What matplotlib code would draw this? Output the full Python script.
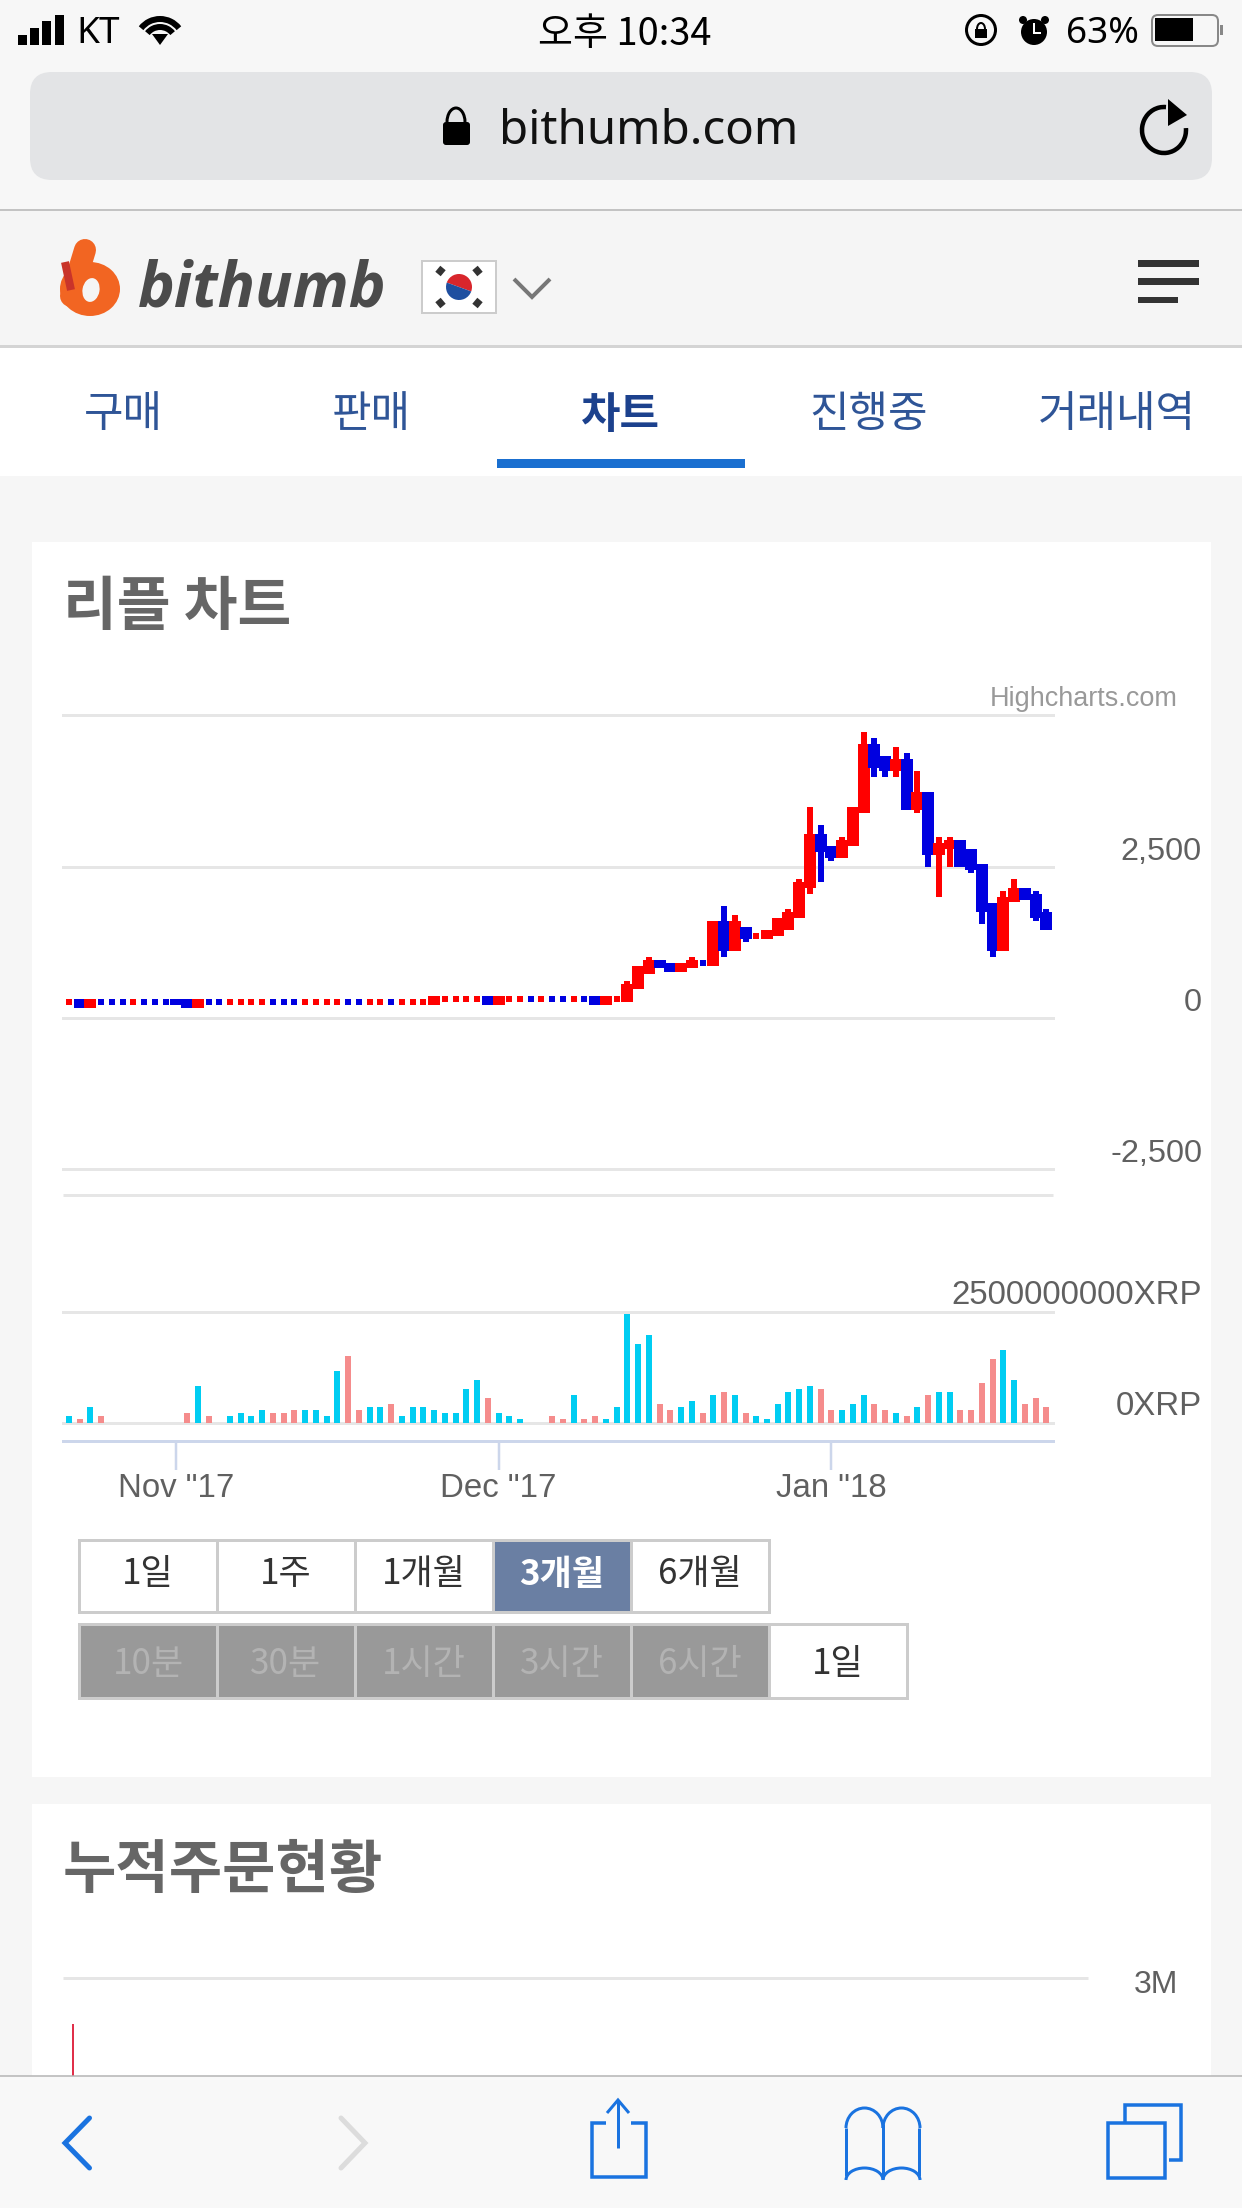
import matplotlib
matplotlib.use("Agg")
import matplotlib.pyplot as plt
from matplotlib.patches import Rectangle, FancyBboxPatch, Circle, Wedge, Arc, Polygon, Ellipse

# ---------- data ----------
# daily candles, index 0 = 22 Oct 2017 ... 91 = 21 Jan 2018 (KRW). r = up (red), b = down (blue)
candle_dirs = list("rbrbbbrbbbbbrbbrrrrbbbrrrrbbrrbrrrrrrrrbrrrbrbbrbb"
                   "rrrrrbbrrbrbrbrrrrrrbbrrrbbrbrbrrbbbbrrbbb")
opens = [267,314,171,267,267,267,267,267,267,267,314,314,171,267,267,267,267,267,267,267,
         267,267,267,267,267,267,267,267,267,267,267,267,267,267,220,316,316,316,316,363,
         220,316,316,316,316,316,316,316,316,363,
         220,314,270,474,721,953,903,765,820,906,864,1602,1112,1503,1357,1310,1360,1454,1657,2147,
         3039,2841,2648,2841,3392,4520,4322,4080,4273,3430,3728,2692,2792,2940,2792,2544,1900,1112,1911,2147,
         2048,1751]
closes = [267,171,314,267,267,267,267,267,267,267,220,171,314,267,267,267,267,267,267,267,
          267,267,267,267,267,267,267,267,267,267,267,267,267,267,363,316,316,316,316,220,
          363,316,316,316,316,316,316,316,316,220,
          358,314,556,853,953,820,765,903,953,906,1602,1112,1602,1310,1357,1454,1652,1751,2246,3039,
          2742,2648,2940,3485,4520,4130,4080,4273,3441,3728,2692,2891,2940,2494,2445,1751,1107,1999,2147,1949,
          1652,1454]
highs = [314,314,314,314,314,314,314,314,314,314,314,314,314,314,314,314,314,314,314,314,
         314,314,314,314,314,314,314,314,314,314,314,314,314,314,363,363,363,363,363,363,
         363,363,363,363,363,363,363,363,363,363,
         358,358,606,853,1008,953,903,903,1008,953,1602,1850,1701,1503,1404,1454,1652,1800,2296,3485,
         3188,2841,2990,3485,4719,4620,4322,4471,4372,4080,3728,2990,2990,2940,2792,2544,1900,2098,2296,2147,
         2098,1800]
lows = [220,171,171,220,220,220,220,220,220,220,220,171,171,220,220,220,220,220,220,220,
        220,220,220,220,220,220,220,220,220,220,220,220,220,220,220,270,270,270,270,220,
        220,270,270,270,270,270,270,270,270,220,
        220,270,270,474,721,820,765,765,820,859,864,1013,1112,1261,1310,1310,1360,1454,1657,2054,
        2246,2599,2648,2841,3392,3981,3981,3981,3441,3386,2494,1999,2494,2494,2395,1553,1008,1112,1911,1949,
        1602,1454]
# volume in millions of XRP; c = cyan, p = pink
volumes = [150,83,353,150,0,0,0,0,0,0,0,218,826,150,0,150,218,150,285,218,
           218,285,285,285,150,1164,1502,285,353,353,420,150,353,353,285,218,218,758,961,556,
           218,150,83,0,0,150,83,623,83,150,
           83,353,2447,1772,1975,420,285,353,488,218,623,691,623,218,150,83,420,691,758,826,
           758,285,285,420,623,420,285,218,150,353,623,691,691,285,285,893,1434,1637,961,420,
           556,353]
volume_dirs = list("cpcpcccccccpcpc" "ccccppp" "ccccppccp" "ccccccccp" "cccccppcpp"
                   "cccccppccpcpcp" "ccccccpp" "cccppcpcp" "ccppppccppp")
tick_idx = [10, 40, 71]
tick_names = ['Nov "17', 'Dec "17', 'Jan "18']
price_ticks = [5000, 2500, 0, -2500]
price_labels = ["", "2,500", "0", "-2,500"]
volume_ticks = [0, 2500000000]
volume_labels = ["0XRP", "2500000000XRP"]
tabs = ["구매", "판매", "차트", "진행중", "거래내역"]
range_buttons = ["1일", "1주", "1개월", "3개월", "6개월"]
period_buttons = ["10분", "30분", "1시간", "3시간", "6시간", "1일"]

# ---------- helpers ----------
W, H = 1242, 2208
KR = ["Noto Sans CJK KR", "DejaVu Sans"]
LAT = ["Liberation Sans", "DejaVu Sans"]
NS = ["Noto Sans", "DejaVu Sans"]
px = 0.72
fig = plt.figure(figsize=(W / 100, H / 100), dpi=100, facecolor="#f6f6f6")
bg = fig.add_axes([0, 0, 1, 1], zorder=0)
bg.set_xlim(0, W); bg.set_ylim(H, 0); bg.axis("off")

def rect(x0, y0, x1, y1, fc, ec="none", lw=0, z=1):
    bg.add_patch(Rectangle((x0, y0), x1 - x0, y1 - y0, fc=fc, ec=ec, lw=lw * px, zorder=z))

def line(xs, ys, c, lw, z=3, cap="butt", join="miter"):
    bg.plot(xs, ys, color=c, lw=lw * px, zorder=z, solid_capstyle=cap, solid_joinstyle=join)

def text(x, y, s, size, c="#111111", ha="center", weight="normal", fam=KR, style="normal"):
    bg.text(x, y, s, fontsize=size * px, color=c, ha=ha, va="center", weight=weight, family=fam,
            style=style, zorder=5)

def axes_px(x0, y_top, x1, y_bot, z=2):
    ax = fig.add_axes([x0 / W, 1 - y_bot / H, (x1 - x0) / W, (y_bot - y_top) / H], zorder=z)
    ax.patch.set_alpha(0)
    return ax

# ---------- chrome ----------
rect(0, 0, W, 210, "#f7f7f7")
bg.add_patch(FancyBboxPatch((30 + 22, 72 + 22), 1182 - 44, 108 - 44, boxstyle="round,pad=22",
                            fc="#e3e4e6", ec="none", zorder=2))
line([0, W], [210, 210], "#b3b3b3", 1.5)
rect(0, 211, W, 346, "#f5f5f5")
rect(0, 345, W, 348, "#d4d4d4", z=2)
rect(0, 348, W, 476, "#ffffff")
rect(32, 542, 1211, 1777, "#ffffff")
rect(32, 1804, 1211, 2080, "#ffffff")
rect(0, 2076, W, H, "#f8f8f8", z=2)
line([0, W], [2076, 2076], "#b3b3b3", 1.5, z=4)

# status bar
for bx, t in zip([18, 30, 42, 55], [35, 28, 21, 15]):
    rect(bx, t, bx + 9, 45, "#000000", z=3)
text(76, 34, "KT", 37, "#000", ha="left", fam=NS)
for r in [16, 24]:
    bg.add_patch(Arc((160, 43), r * 2, r * 2, theta1=218, theta2=322, color="#000", lw=6 * px, zorder=3))
bg.add_patch(Polygon([[152, 34], [168, 34], [160, 45]], fc="#000", ec="none", zorder=3))
text(625, 34, "오후 10:34", 38, "#000", weight="medium")
bg.add_patch(Circle((981, 30), 14.5, fc="none", ec="#000", lw=3 * px, zorder=3))
rect(975, 29, 987, 38, "#000", z=3)
bg.add_patch(Arc((981, 29), 8, 12, theta1=180, theta2=360, color="#000", lw=2 * px, zorder=3))
bg.add_patch(Circle((1034, 32), 13, fc="#000", ec="none", zorder=3))
bg.add_patch(Circle((1023, 20), 4, fc="#000", ec="none", zorder=3))
bg.add_patch(Circle((1045, 20), 4, fc="#000", ec="none", zorder=3))
line([1034, 1034, 1041], [23, 33, 33], "#fff", 2, z=4)
text(1102, 34, "63%", 37, "#000", fam=NS)
bg.add_patch(FancyBboxPatch((1155, 18), 60, 25, boxstyle="round,pad=3,rounding_size=6", fc="none",
                            ec="#888888", lw=2 * px, zorder=3))
rect(1155, 18, 1193, 41, "#000", z=4)
rect(1220, 25, 1223, 35, "#888888", z=3)

# url bar
text(649, 131, "bithumb.com", 47.5, "#111", fam=NS)
bg.add_patch(FancyBboxPatch((445, 124), 23, 19, boxstyle="round,pad=2,rounding_size=3", fc="#000", ec="none", zorder=3))
bg.add_patch(Arc((456, 122), 18, 28, theta1=180, theta2=360, color="#000", lw=3 * px, zorder=3))
bg.add_patch(Arc((1164, 130), 44, 46, theta1=-5, theta2=275, color="#000", lw=4.5 * px, zorder=3))
bg.add_patch(Polygon([[1168, 99], [1187, 115], [1168, 126]], fc="#000", ec="none", zorder=3))

# logo
bg.add_patch(Ellipse((90, 289), 60, 54, fc="#f26522", ec="none", zorder=3))
line([85, 71], [250, 296], "#f26522", 22, cap="round", z=3)
bg.add_patch(Ellipse((91, 290), 17, 24, angle=10, fc="#f5f5f5", ec="none", zorder=4))
line([65, 71], [262, 290], "#c9342a", 8, z=4)
text(138, 290, "bithumb", 62, "#4b4b4b", ha="left", weight="bold", style="italic", fam=["Open Sans", "DejaVu Sans"])
rect(422, 261, 496, 313, "#ffffff", ec="#cccccc", lw=2, z=3)
bg.add_patch(Wedge((459, 287), 13, 200, 380, fc="#d8262c", ec="none", zorder=4))
bg.add_patch(Wedge((459, 287), 13, 20, 200, fc="#1f4fa0", ec="none", zorder=4))
for a, b in [((438, 274), (443, 268)), ((475, 268), (480, 274)), ((475, 306), (480, 300)), ((438, 300), (443, 306))]:
    line([a[0], b[0]], [a[1], b[1]], "#333333", 7, z=4)
line([514, 532, 550], [279, 297, 279], "#777777", 4)
for y0, y1, x1 in [(260, 267, 1199), (278, 285, 1199), (297, 303, 1178)]:
    rect(1138, y0, x1, y1, "#333333", z=3)

# tabs
for x, s in zip([123, 371, 620, 869, 1117], tabs):
    active = s == "차트"
    text(x, 415, s, 43, "#1c418d" if active else "#2f5597", weight="bold" if active else "normal")
rect(497, 459, 745, 468, "#1a6fd0", z=3)

# titles
text(63, 608, "리플 차트", 58.5, "#666666", ha="left", weight="bold")
text(63, 1871, "누적주문현황", 58, "#666666", ha="left", weight="bold")
text(1178, 699, "Highcharts.com", 27, "#999999", ha="right", fam=LAT)

# buttons
bw = 138
for i, s in enumerate(range_buttons):
    active = s == "3개월"
    rect(79 + i * bw, 1540, 79 + (i + 1) * bw, 1612, "#6a7fa3" if active else "#ffffff", ec="#cccccc", lw=3, z=3)
    text(79 + i * bw + bw / 2, 1574, s, 35, "#ffffff" if active else "#333333", weight="bold" if active else "normal")
for i, s in enumerate(period_buttons):
    off = i < 5
    rect(79 + i * bw, 1624, 79 + (i + 1) * bw, 1698, "#999999" if off else "#ffffff", ec="#cccccc", lw=3, z=3)
    text(79 + i * bw + bw / 2, 1664, s, 35, "#b3b3b3" if off else "#333333")

# depth chart fragment
line([63, 1088], [1978, 1978], "#e6e6e6", 3)
text(1178, 1985, "3M", 32, "#606060", ha="right", fam=LAT)
line([73, 73], [2024, 2076], "#e0304a", 2)

# toolbar icons
BL = "#1a73e0"
line([89.5, 65, 89.5], [2118, 2143, 2168], BL, 5, cap="round")
line([341, 365, 341], [2118, 2143, 2168], "#dcdcdc", 5, cap="round")
line([606, 592, 592, 646, 646, 631], [2123, 2123, 2177, 2177, 2123, 2123], BL, 3.5)
line([618, 618], [2148, 2100], BL, 3)
line([607, 618, 629], [2113, 2100, 2113], BL, 3)
line([883, 883], [2124, 2178], BL, 3)
bg.add_patch(Arc((864.5, 2128), 37, 40, theta1=180, theta2=360, color=BL, lw=3 * px, zorder=3))
bg.add_patch(Arc((901.5, 2128), 37, 40, theta1=180, theta2=360, color=BL, lw=3 * px, zorder=3))
line([846, 846], [2128, 2176], BL, 3); line([919, 919], [2128, 2176], BL, 3)
bg.add_patch(Arc((864.5, 2180), 37, 24, theta1=180, theta2=360, color=BL, lw=3 * px, zorder=3))
bg.add_patch(Arc((901.5, 2180), 37, 24, theta1=180, theta2=360, color=BL, lw=3 * px, zorder=3))
rect(1108, 2123, 1165, 2178, "none", ec=BL, lw=3.5, z=3)
line([1125, 1125, 1181, 1181, 1169], [2123, 2105, 2105, 2160, 2160], BL, 3.5)

# ---------- chart ----------
step = 10.74
x0_px = 68.9
xlim = ((63 - x0_px) / step, (1053 - x0_px) / step)
body_w = 12 / step
wick_w = 6 / step
RED, BLUE = "#ff0000", "#0000e0"
TICK = "#606060"

ax = axes_px(63, 715.3, 1053, 1169.3)
ax.set_xlim(*xlim); ax.set_ylim(-2500, 5000)
for s in ax.spines.values():
    s.set_visible(False)
ax.set_xticks([])
ax.set_yticks(price_ticks)
ax.tick_params(length=0, labelleft=False)
ax.grid(axis="y", color="#e6e6e6", lw=3 * px, clip_on=False)
ax.set_axisbelow(True)
for v, s in zip(price_ticks, price_labels):
    ax.annotate(s, (1, v), xycoords=ax.get_yaxis_transform(), xytext=(149 * px, 15 * px),
                textcoords="offset points", ha="right", va="center", fontsize=32.5 * px, color=TICK, family=LAT)
for i, (o, c, h, l, d) in enumerate(zip(opens, closes, highs, lows, candle_dirs)):
    col = RED if d == "r" else BLUE
    ax.bar(i, h - l, bottom=l, width=wick_w, color=col, lw=0, zorder=3 + i * 0.001, antialiased=False)
    if o != c:
        ax.bar(i, abs(c - o), bottom=min(o, c), width=body_w, color=col, lw=0, zorder=3 + i * 0.001, antialiased=False)

# separator line between the panes
line([63, 1053], [1195, 1195], "#e6e6e6", 3)

vx = axes_px(63, 1311.7, 1053, 1422.7)
vx.set_xlim(*xlim); vx.set_ylim(0, 2.5e9)
for k in ("top", "left", "right"):
    vx.spines[k].set_visible(False)
vx.spines["bottom"].set_position(("outward", 18.3 * px))
vx.spines["bottom"].set_color("#ccd6eb")
vx.spines["bottom"].set_linewidth(3 * px)
vx.set_xticks(tick_idx)
vx.set_xticklabels(tick_names, fontsize=33 * px, color=TICK, family=LAT)
vx.tick_params(axis="x", length=29 * px, width=2.5 * px, color="#ccd6eb", pad=2)
vx.set_yticks(volume_ticks)
vx.tick_params(axis="y", length=0, labelleft=False)
vx.grid(axis="y", color="#e6e6e6", lw=3 * px, clip_on=False)
vx.set_axisbelow(True)
for v, s in zip(volume_ticks, volume_labels):
    vx.annotate(s, (1, v), xycoords=vx.get_yaxis_transform(), xytext=(149 * px, 16 * px),
                textcoords="offset points", ha="right", va="center", fontsize=33 * px, color=TICK, family=LAT)
vcol = {"c": "#00cdf2", "p": "#f58c8c"}
vx.bar(range(len(volumes)), [v * 1e6 for v in volumes], width=6 / step,
       color=[vcol[d] for d in volume_dirs], lw=0, zorder=3)

fig.savefig("out.png", dpi=100, facecolor=fig.get_facecolor())
